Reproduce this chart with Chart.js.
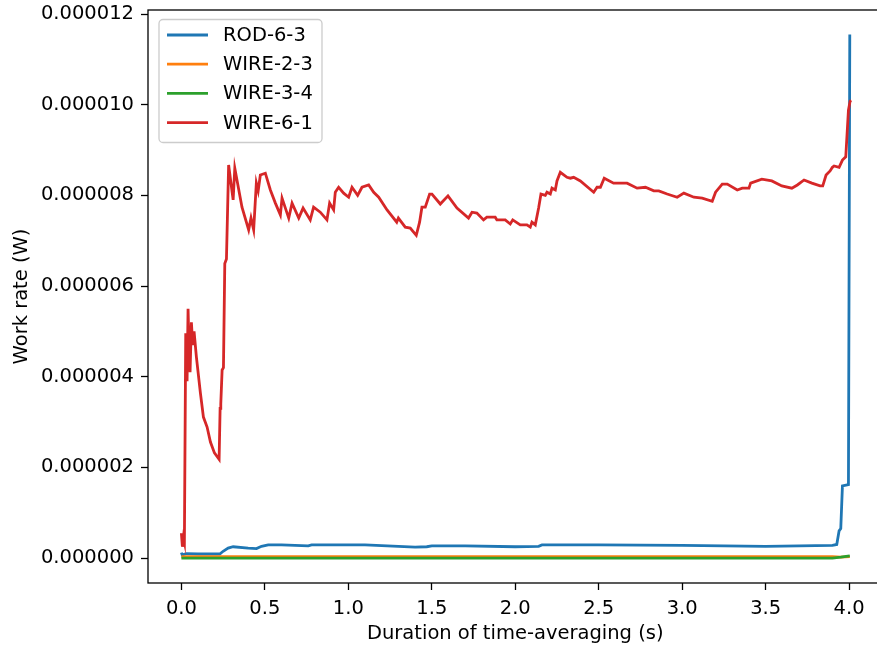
<!DOCTYPE html>
<html>
<head>
<meta charset="utf-8">
<title>Work rate vs duration of time-averaging</title>
<script src="https://cdn.jsdelivr.net/npm/chart.js@4.4.1/dist/chart.umd.min.js"></script>
<style>
    html, body { margin: 0; padding: 0; background: #fff; overflow: hidden; }
    #chart { display: block; }
</style>
</head>
<body>
<!-- the axes run past the right edge of the window, as in the reference -->
<canvas id="chart" width="884" height="648"></canvas>
<script>
// Values, in microwatts (converted to W below)
const rodT = [0, 0.005, 0.03, 0.1, 0.23, 0.25, 0.28, 0.31, 0.4, 0.45, 0.48, 0.52, 0.6, 0.76, 0.78, 1.0, 1.1, 1.3, 1.4, 1.47, 1.5, 1.7, 2.0, 2.14, 2.16, 2.5, 3.0, 3.5, 3.9, 3.926, 3.94, 3.95, 3.96, 3.996, 4.004];
const rodW = [0.12, 0.07, 0.1, 0.09, 0.09, 0.15, 0.22, 0.25, 0.22, 0.21, 0.26, 0.29, 0.29, 0.27, 0.29, 0.29, 0.29, 0.26, 0.24, 0.25, 0.27, 0.27, 0.25, 0.26, 0.29, 0.29, 0.28, 0.26, 0.28, 0.3, 0.6, 0.65, 1.59, 1.62, 11.55];

const wire23T = [0, 3.9, 3.95, 4.004];
const wire23W = [0.03, 0.03, 0.02, 0.03];

const wire34T = [0, 3.9, 3.95, 4.004];
const wire34W = [0.0, 0.0, 0.02, 0.05];

const wire61T = [0, 0.006, 0.012, 0.018, 0.026, 0.034, 0.04, 0.046, 0.052, 0.06, 0.068, 0.076, 0.09, 0.114, 0.132, 0.154, 0.174, 0.198, 0.226, 0.232, 0.236, 0.244, 0.252, 0.26, 0.27, 0.283, 0.31, 0.32, 0.363, 0.403, 0.417, 0.433, 0.449, 0.46, 0.473, 0.503, 0.533, 0.563, 0.593, 0.603, 0.643, 0.663, 0.703, 0.729, 0.772, 0.792, 0.832, 0.872, 0.888, 0.912, 0.922, 0.942, 0.972, 1.002, 1.022, 1.056, 1.082, 1.122, 1.152, 1.182, 1.232, 1.29, 1.30, 1.341, 1.371, 1.407, 1.427, 1.441, 1.461, 1.487, 1.501, 1.551, 1.597, 1.651, 1.72, 1.741, 1.77, 1.81, 1.83, 1.88, 1.89, 1.94, 1.97, 1.985, 2.03, 2.07, 2.09, 2.1, 2.12, 2.14, 2.154, 2.18, 2.19, 2.21, 2.22, 2.24, 2.25, 2.27, 2.31, 2.33, 2.35, 2.39, 2.47, 2.49, 2.51, 2.533, 2.589, 2.63, 2.67, 2.73, 2.78, 2.83, 2.86, 2.91, 2.97, 3.01, 3.07, 3.12, 3.18, 3.2, 3.24, 3.27, 3.33, 3.36, 3.4, 3.41, 3.477, 3.537, 3.597, 3.657, 3.69, 3.73, 3.777, 3.826, 3.842, 3.862, 3.886, 3.9, 3.91, 3.94, 3.96, 3.98, 3.996, 4.006, 4.012];
const wire61W = [0.55, 0.25, 0.45, 0.35, 4.96, 3.9, 5.5, 4.6, 4.1, 5.2, 4.7, 5.0, 4.43, 3.64, 3.11, 2.89, 2.56, 2.32, 2.18, 3.3, 3.4, 4.15, 4.2, 6.5, 6.6, 8.67, 7.9, 8.6, 7.74, 7.24, 7.5, 7.24, 8.27, 8.1, 8.45, 8.49, 8.12, 7.83, 7.57, 7.94, 7.5, 7.83, 7.5, 7.72, 7.46, 7.74, 7.63, 7.46, 7.83, 7.68, 8.07, 8.18, 8.05, 7.96, 8.18, 8.0, 8.18, 8.23, 8.07, 7.96, 7.68, 7.41, 7.5, 7.3, 7.28, 7.12, 7.41, 7.74, 7.74, 8.03, 8.03, 7.81, 7.99, 7.72, 7.5, 7.63, 7.61, 7.46, 7.52, 7.52, 7.46, 7.46, 7.37, 7.46, 7.35, 7.35, 7.3, 7.41, 7.35, 7.72, 8.03, 8.0, 8.07, 8.03, 8.16, 8.12, 8.32, 8.51, 8.4, 8.38, 8.4, 8.32, 8.07, 8.18, 8.18, 8.38, 8.27, 8.27, 8.27, 8.16, 8.18, 8.1, 8.1, 8.03, 7.96, 8.05, 7.96, 7.94, 7.87, 8.07, 8.25, 8.25, 8.12, 8.16, 8.16, 8.27, 8.36, 8.32, 8.21, 8.16, 8.23, 8.34, 8.27, 8.21, 8.21, 8.45, 8.54, 8.62, 8.65, 8.62, 8.78, 8.85, 9.88, 10.08, 10.1];

const seriesLabels = ['ROD-6-3', 'WIRE-2-3', 'WIRE-3-4', 'WIRE-6-1'];
const seriesColors = ['#1f77b4', '#ff7f0e', '#2ca02c', '#d62728'];

const xTicks = [0.0, 0.5, 1.0, 1.5, 2.0, 2.5, 3.0, 3.5, 4.0];
const yTicks = [0, 0.000002, 0.000004, 0.000006, 0.000008, 0.000010, 0.000012];

const FONT = '"DejaVu Sans", "Liberation Sans", sans-serif';

function toPoints(ts, ws) {
    return ts.map((t, i) => ({ x: t, y: ws[i] * 1e-6 }));
}

const seriesData = [
    toPoints(rodT, rodW),
    toPoints(wire23T, wire23W),
    toPoints(wire34T, wire34W),
    toPoints(wire61T, wire61W)
];

// matplotlib draws later lines on top; in Chart.js a lower order is drawn last
const datasets = seriesLabels.map((label, i) => ({
    label: label,
    data: seriesData[i],
    borderColor: seriesColors[i],
    backgroundColor: seriesColors[i],
    borderWidth: 2.8,
    pointRadius: 0,
    tension: 0,
    order: seriesLabels.length - i
}));

// Frame around the plot area (all four spines)
const framePlugin = {
    id: 'frame',
    afterDatasetsDraw(chart) {
        const { ctx, chartArea } = chart;
        ctx.save();
        ctx.strokeStyle = '#000';
        ctx.lineWidth = 1.3;
        ctx.strokeRect(chartArea.left, chartArea.top,
            chartArea.right - chartArea.left, chartArea.bottom - chartArea.top);
        ctx.restore();
    }
};

// Legend box drawn inside the plot area, upper left
const innerLegend = {
    id: 'innerLegend',
    afterDraw(chart) {
        const ctx = chart.ctx;
        const area = chart.chartArea;
        const boxX = area.left + 11, boxY = area.top + 9.5;
        const boxW = 163, boxH = 123;
        ctx.save();
        ctx.beginPath();
        ctx.roundRect(boxX, boxY, boxW, boxH, 4);
        ctx.fillStyle = 'rgba(255,255,255,0.8)';
        ctx.fill();
        ctx.strokeStyle = '#cccccc';
        ctx.lineWidth = 1.3;
        ctx.stroke();

        ctx.font = '19.5px ' + FONT;
        ctx.textBaseline = 'middle';
        ctx.textAlign = 'left';
        chart.data.datasets.forEach((ds, i) => {
            const rowY = boxY + 15.5 + i * 29.2;
            ctx.beginPath();
            ctx.moveTo(boxX + 8, rowY);
            ctx.lineTo(boxX + 49, rowY);
            ctx.strokeStyle = ds.borderColor;
            ctx.lineWidth = 2.8;
            ctx.stroke();
            ctx.fillStyle = '#000';
            ctx.fillText(ds.label, boxX + 64, rowY + 1);
        });
        ctx.restore();
    }
};

const tickGrid = {
    display: true,
    drawOnChartArea: false,
    drawTicks: true,
    tickLength: 7,
    tickColor: '#000',
    tickWidth: 1.3,
    color: '#000'
};

new Chart(document.getElementById('chart'), {
    type: 'line',
    data: { datasets: datasets },
    options: {
        responsive: false,
        animation: false,
        devicePixelRatio: 1,
        layout: { padding: { top: 10, right: 1.5, left: 0, bottom: 0 } },
        plugins: {
            legend: { display: false },
            tooltip: { enabled: false }
        },
        scales: {
            x: {
                type: 'linear',
                min: -0.2,
                max: 4.2,
                grid: tickGrid,
                border: { display: false },
                afterBuildTicks: function (scale) {
                    scale.ticks = xTicks.map(v => ({ value: v }));
                },
                afterFit: function (scale) {
                    scale.height = 65;
                    scale.paddingLeft = 0;
                    scale.paddingRight = 0;
                },
                ticks: {
                    color: '#000',
                    padding: 7,
                    maxRotation: 0,
                    font: { family: FONT, size: 19.5 },
                    callback: function (value) {
                        return Number(value).toFixed(1);
                    }
                },
                title: {
                    display: true,
                    text: 'Duration of time-averaging (s)',
                    color: '#000',
                    font: { family: FONT, size: 19.5 },
                    padding: { top: 0, bottom: 2 }
                }
            },
            y: {
                type: 'linear',
                min: -0.00000055,
                max: 0.00001209,
                grid: tickGrid,
                border: { display: false },
                afterBuildTicks: function (scale) {
                    scale.ticks = yTicks.map(v => ({ value: v }));
                },
                afterFit: function (scale) {
                    scale.width = 148;
                    scale.paddingTop = 0;
                    scale.paddingBottom = 0;
                },
                ticks: {
                    color: '#000',
                    padding: 7,
                    font: { family: FONT, size: 19.5 },
                    callback: function (value) {
                        return Number(value).toFixed(6);
                    }
                },
                title: {
                    display: true,
                    text: 'Work rate (W)',
                    color: '#000',
                    font: { family: FONT, size: 19.5 },
                    padding: { top: 10, bottom: 0 }
                }
            }
        }
    },
    plugins: [framePlugin, innerLegend]
});
</script>
</body>
</html>
